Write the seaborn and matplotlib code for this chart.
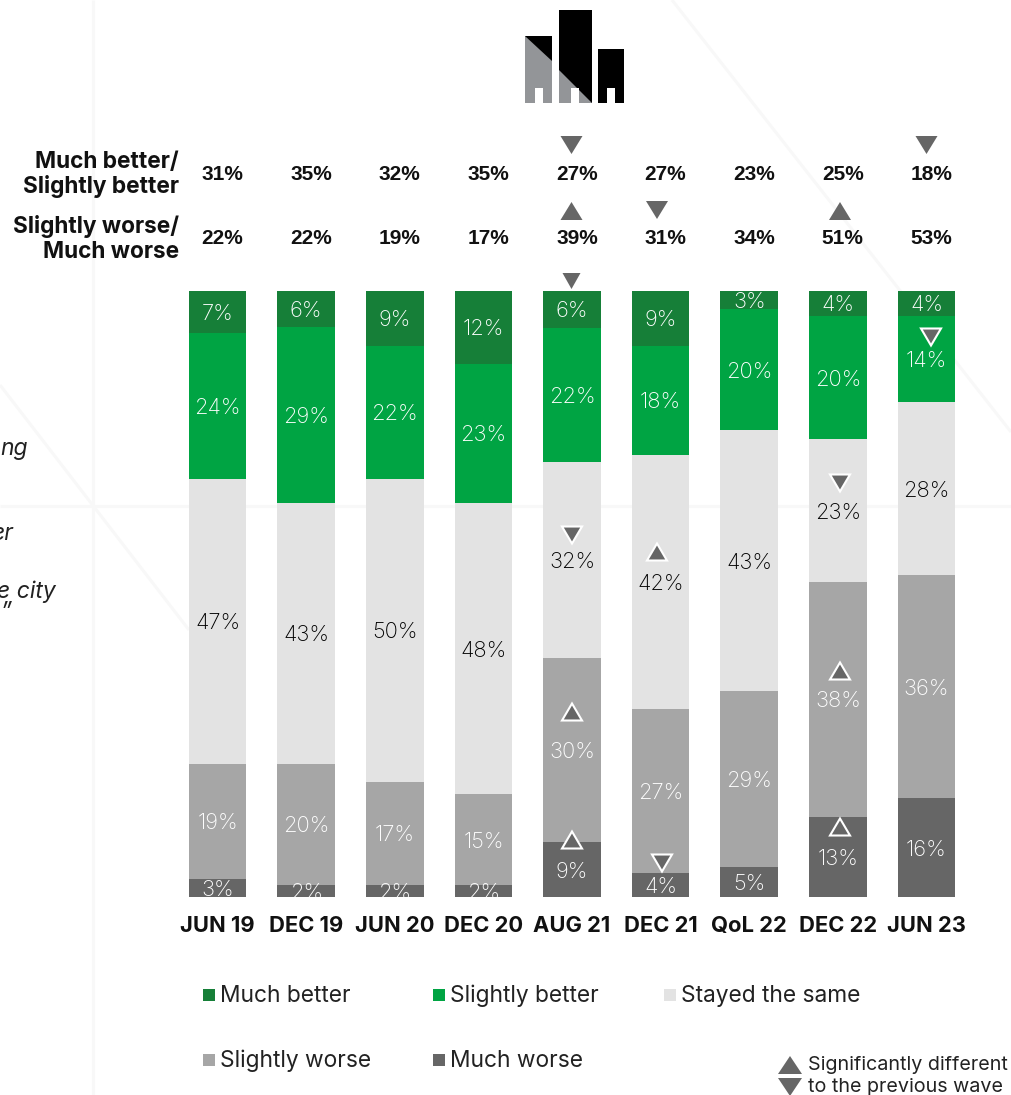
import matplotlib
matplotlib.use("Agg")
import matplotlib.pyplot as plt
import numpy as np
import seaborn as sns
from matplotlib.patches import Polygon, Rectangle

W, H = 1011, 1095
waves = ["JUN 19", "DEC 19", "JUN 20", "DEC 20", "AUG 21", "DEC 21", "QoL 22", "DEC 22", "JUN 23"]
much_better = [7, 6, 9, 12, 6, 9, 3, 4, 4]
slightly_better = [24, 29, 22, 23, 22, 18, 20, 20, 14]
stayed_same = [47, 43, 50, 48, 32, 42, 43, 23, 28]
slightly_worse = [19, 20, 17, 15, 30, 27, 29, 38, 36]
much_worse = [3, 2, 2, 2, 9, 4, 5, 13, 16]
net_better = [31, 35, 32, 35, 27, 27, 23, 25, 18]
net_worse = [22, 22, 19, 17, 39, 31, 34, 51, 53]

series = [("Much better", much_better, "#167F38", "white"),
          ("Slightly better", slightly_better, "#00A443", "white"),
          ("Stayed the same", stayed_same, "#E3E3E3", "#000000"),
          ("Slightly worse", slightly_worse, "#A6A6A6", "white"),
          ("Much worse", much_worse, "#666666", "white")]

sns.set_theme(style="white")
plt.rcParams["font.family"] = ["Inter", "DejaVu Sans"]
fig = plt.figure(figsize=(W / 100, H / 100), dpi=100)

# pixel overlay
bg = fig.add_axes([0, 0, 1, 1], zorder=0)
bg.set_xlim(0, W); bg.set_ylim(H, 0); bg.axis("off")
for xs, ys in [([93, 93], [0, H]), ([0, W], [506, 506]), ([0, 189], [385, 630]), ([672, W], [0, 432])]:
    bg.plot(xs, ys, color="#F8F8F8", lw=2.2, solid_capstyle="butt")

ax = fig.add_axes([173.2 / W, 1 - 897 / H, 797.6 / W, 606 / H], zorder=1)
ax.patch.set_alpha(0)
totals = np.sum([s[1] for s in series], axis=0)
top = np.full(len(waves), 100.0)
for name, vals, col, tcol in series:
    pct = np.array(vals) / totals * 100
    top = top - pct
    sns.barplot(x=waves, y=pct, bottom=top, color=col, saturation=1, width=0.65, ax=ax, zorder=2,
                linewidth=0, edgecolor="none")
    for i, (v, p, b) in enumerate(zip(vals, pct, top)):
        ax.annotate(f"{v}%", (i, b + p / 2), xytext=(0, -1.5), textcoords="offset points", ha="center",
                    va="center", color=tcol, fontsize=15.8, fontweight="light", zorder=4)
ax.set_xlim(-0.5, 8.5); ax.set_ylim(0, 100)
ax.set_yticks([]); ax.set_ylabel("")
ax.tick_params(axis="x", length=0, pad=14)
for t in ax.get_xticklabels():
    t.set_fontweight("bold"); t.set_fontsize(15.8); t.set_color("#111111")
sns.despine(ax=ax, left=True, bottom=True)

fg = fig.add_axes([0, 0, 1, 1], zorder=2)
fg.set_xlim(0, W); fg.set_ylim(H, 0); fg.axis("off"); fg.patch.set_alpha(0)

centers = [217.5 + 88.6 * i for i in range(9)]
for c, a, b in zip(centers, net_better, net_worse):
    fg.text(c + 5, 174, f"{a}%", ha="center", va="center", fontweight="bold", fontsize=15,
            family="Liberation Sans", color="#111111")
    fg.text(c + 5, 238, f"{b}%", ha="center", va="center", fontweight="bold", fontsize=15,
            family="Liberation Sans", color="#111111")
for y, s in [(162, "Much better/"), (187, "Slightly better"), (226, "Slightly worse/"), (252, "Much worse")]:
    fg.text(179, y, s, ha="right", va="center", fontweight="bold", fontsize=16.3, color="#111111")

def tri(cx, cy, up, w=22, h=18, ec="none", lw=0):
    d = h / 2 if up else -h / 2
    fg.add_patch(Polygon([(cx - w / 2, cy + d), (cx + w / 2, cy + d), (cx, cy - d)], closed=True,
                         fc="#666666", ec=ec, lw=lw, joinstyle="miter"))

for cx, cy, up in [(571.5, 145, False), (926.5, 145, False), (571.5, 211, True), (657, 210, False),
                   (840, 211, True), (571.5, 281, False)]:
    tri(cx, cy, up, w=(18 if cy == 281 else 22), h=(16 if cy == 281 else 18))
for cx, cy, up in [(931, 337, False), (572, 535, False), (657, 552, True), (840, 483, False),
                   (572, 712, True), (840, 671, True), (572, 840, True), (662, 863, False), (840, 827, True)]:
    tri(cx, cy, up, w=20, h=17, ec="white", lw=1.5)

for x, y, s in [(28, 449, "ng"), (14, 534, "er"), (56, 592, "e city"), (12, 613, "”")]:
    fg.text(x, y, s, ha="right", va="center", style="italic", fontsize=16.5, color="#222222")

for x, y, (name, _, col, _t) in zip([203, 433, 664, 203, 433], [995, 995, 995, 1060, 1060], series):
    fg.add_patch(Rectangle((x, y - 6), 12, 12, fc=col, ec="none"))
    fg.text(x + 17, y + 1, name, ha="left", va="center", fontsize=16.4, color="#222222")

tri(790, 1065, True, w=24, h=18)
tri(790, 1087, False, w=24, h=18)
fg.text(808, 1065, "Significantly different", ha="left", va="center", fontsize=14.2, color="#222222")
fg.text(808, 1087, "to the previous wave", ha="left", va="center", fontsize=14.2, color="#222222")

# logo
fg.add_patch(Rectangle((525, 36), 27, 67, fc="#939598", ec="none"))
fg.add_patch(Polygon([(525, 36), (552, 36), (552, 61)], fc="black", ec="none"))
fg.add_patch(Rectangle((559, 10), 33, 93, fc="black", ec="none"))
fg.add_patch(Polygon([(559, 70), (592, 103), (559, 103)], fc="#939598", ec="none"))
fg.add_patch(Rectangle((598, 49), 26, 54, fc="black", ec="none"))
for x in [535, 571, 607]:
    fg.add_patch(Rectangle((x, 88), 8, 15, fc="white", ec="none"))

fig.savefig("out.png", dpi=100)
